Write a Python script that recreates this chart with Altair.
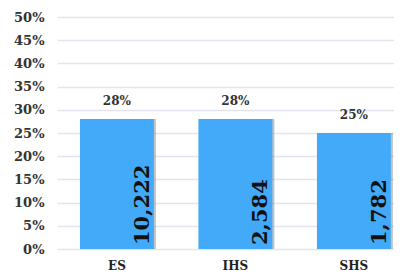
import altair as alt
import pandas as pd

categories = ["ES", "IHS", "SHS"]
shares = [0.28, 0.28, 0.25]
counts = [10222, 2584, 1782]
share_labels = ["28%", "28%", "25%"]
count_labels = ["10,222", "2,584", "1,782"]

df = pd.DataFrame({
    "cat": categories,
    "share": shares,
    "count": counts,
    "share_label": share_labels,
    "count_label": count_labels,
})

FONT = "DejaVu Serif"
TICKS = [0, 0.05, 0.1, 0.15, 0.2, 0.25, 0.3, 0.35, 0.4, 0.45, 0.5]

x = alt.X("cat:N", sort=categories, title=None,
          scale=alt.Scale(paddingInner=0.376, paddingOuter=0.11, align=0.88),
          axis=alt.Axis(labelAngle=0, labelFont=FONT, labelFontWeight="bold",
                        labelFontSize=12, labelColor="#222", labelPadding=11,
                        ticks=False, tickSize=0, domain=False, grid=False))
yscale = alt.Scale(domain=[0, 0.5], nice=False)
yaxis = alt.Axis(values=TICKS, format=".0%", labelFont=FONT, labelFontWeight="bold",
                 labelFontSize=13, labelColor="#333", labelPadding=13,
                 labelOverlap=False, ticks=False, tickSize=0, domain=False,
                 gridColor="#e4e4ee", gridWidth=1.5)
y = alt.Y("share:Q", title=None, scale=yscale, axis=yaxis)

base = alt.Chart(df)

shadow = base.mark_bar(color="#777", opacity=0.45, xOffset=2).encode(x=x, y=y)
bars = base.mark_bar(color="#42aaf8").encode(x=x, y=y)
top = base.mark_text(font=FONT, fontWeight="bold", fontSize=12, color="#333",
                     baseline="bottom", dy=-11).encode(x=x, y=y, text="share_label:N")
inside = base.transform_calculate(zero="0").mark_text(
    font=FONT, fontWeight="bold", fontSize=21, color="#111",
    angle=270, align="left", baseline="alphabetic",
    xOffset=32, yOffset=-4).encode(
    x=x, y=alt.Y("zero:Q", title=None, scale=yscale, axis=yaxis), text="count_label:N")

chart = alt.layer(shadow, bars, top, inside).properties(
    width=337, height=232,
    autosize=alt.AutoSizeParams(type="none"),
    padding={"left": 49, "top": 9, "right": 0, "bottom": 25},
).configure_view(stroke=None)

chart.save("out.html", embed_options={"renderer": "svg", "actions": False})
